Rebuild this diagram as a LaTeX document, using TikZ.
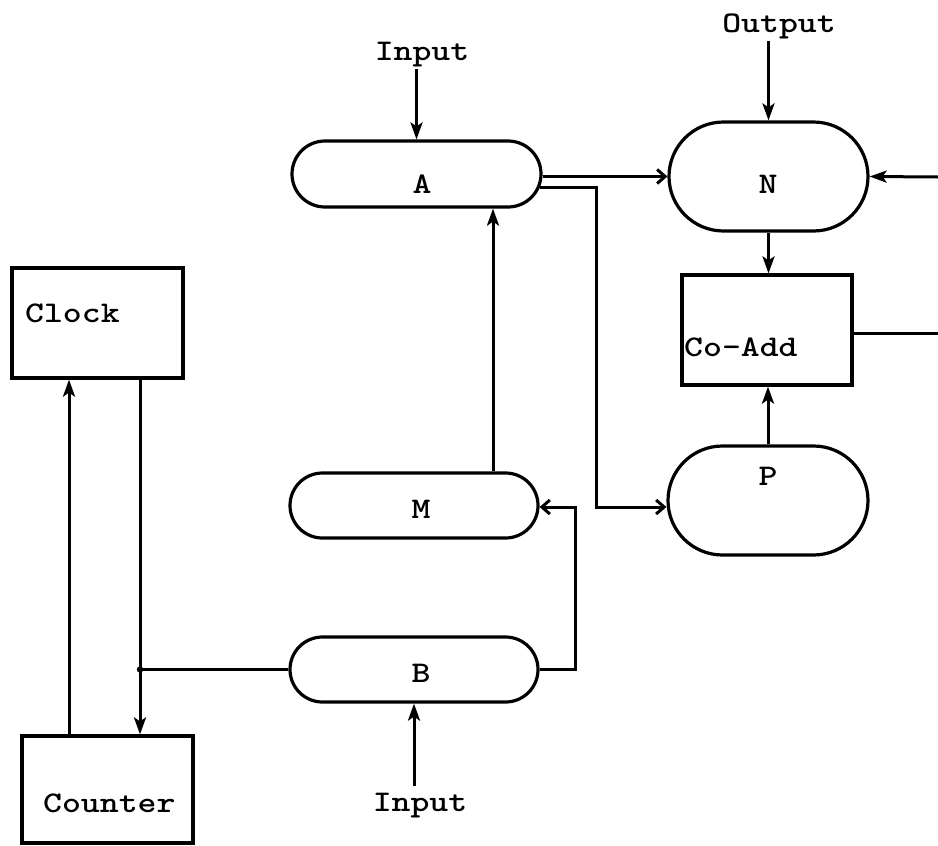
\documentclass[tikz,border=0pt]{standalone}
\usepackage{graphicx}
\usetikzlibrary{arrows.meta,calc}
\newcommand{\tw}[1]{\scalebox{1.2}[1]{\fontsize{30}{30}\selectfont\ttfamily\bfseries #1}}
\begin{document}
\begin{tikzpicture}[x=1pt,y=-1pt,
  blk/.style={draw, line width=3.2pt, inner sep=0pt},
  txt/.style={inner sep=0pt},
  ln/.style={line width=3pt},
  sarr/.style={ln, -{Stealth[length=17pt,width=12pt,inset=4pt]}},
  oarr/.style={ln, -{Straight Barb[length=8pt,width=14pt]}}]
\useasboundingbox (0,0) rectangle (938,846);
% boxes
\node[blk, minimum width=171pt, minimum height=110pt] (clock) at (97.5,323) {};
\node[txt, anchor=base west] (clockt) at (25,322) {\tw{Clock}};
\node[blk, minimum width=171pt, minimum height=107pt] (counter) at (107.5,789.5) {};
\node[txt, anchor=base west] (countert) at (43,812) {\tw{Counter}};
\node[blk, minimum width=249pt, minimum height=66pt, rounded corners=33pt] (A) at (416.5,174) {};
\node[txt, anchor=base] (At) at (422,193) {\tw{A}};
\node[blk, minimum width=248pt, minimum height=65pt, rounded corners=32.5pt] (M) at (414,505.5) {};
\node[txt, anchor=base] (Mt) at (421,518) {\tw{M}};
\node[blk, minimum width=248pt, minimum height=65pt, rounded corners=32.5pt] (B) at (414,669.5) {};
\node[txt, anchor=base] (Bt) at (421,682) {\tw{B}};
\node[blk, minimum width=199pt, minimum height=109pt, rounded corners=54.5pt] (N) at (768.5,176.5) {};
\node[txt, anchor=base] (Nt) at (768,193) {\tw{N}};
\node[blk, minimum width=170pt, minimum height=110pt] (coadd) at (767,330) {};
\node[txt, anchor=base west] (coaddt) at (684,356) {\tw{Co-Add}};
\node[blk, minimum width=200pt, minimum height=109pt, rounded corners=54.5pt] (P) at (768,500.5) {};
\node[txt, anchor=base] (Pt) at (768,485) {\tw{P}};
% labels
\node[txt, anchor=base] (in1) at (422,60) {\tw{Input}};
\node[txt, anchor=base] (out) at (779,32) {\tw{Output}};
\node[txt, anchor=base] (in2) at (420,811) {\tw{Input}};
% helper coordinates
\coordinate (cx1) at (69,0);
\coordinate (cx2) at (140,0);
\coordinate (bm) at (575,0);
\coordinate (ma) at (493,0);
\coordinate (ap) at (596,187);
\coordinate (row) at (0,507);
\coordinate (re1) at (938,177);
\coordinate (re2) at (938,333);
% connectors
\draw[sarr] (counter.north -| cx1) -- (clock.south -| cx1);
\draw[sarr] (clock.south -| cx2) -- (counter.north -| cx2);
\draw[ln] (B.west) -- (B.west -| cx2);
\fill (B.west -| cx2) circle (3.2pt);
\draw[oarr] (B.east) -- (B.east -| bm) -- (bm |- row) -- (M.east |- row);
\draw[sarr] (M.north -| ma) -- (A.south -| ma);
\draw[sarr] ([yshift=-2pt]in1.south -| A.north) -- (A.north);
\draw[oarr] (A.east |- N.west) -- (N.west);
\draw[oarr] ($(A.east)+(-3,13)$) -- (ap) -- (ap |- row) -- (P.west |- row);
\draw[sarr] ([yshift=-2pt]out.south -| N.north) -- (N.north);
\draw[sarr] (N.south) -- (coadd.north -| N.south);
\draw[sarr] (P.north) -- (coadd.south -| P.north);
\draw[sarr] (re1) -- (N.east);
\draw[ln] (coadd.east |- re2) -- (re2);
\draw[sarr] ([yshift=6pt]in2.north -| B.south) -- (B.south);
\end{tikzpicture}
\end{document}
